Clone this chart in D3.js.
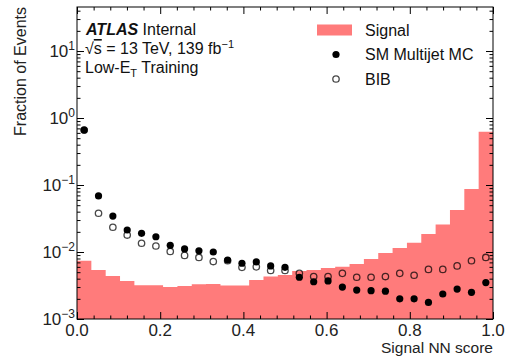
<!DOCTYPE html>
<html>
<head>
<meta charset="utf-8">
<script src="https://cdn.jsdelivr.net/npm/d3@7"></script>
<style>
  html, body { margin: 0; padding: 0; background: #fff; }
  svg { display: block; font-family: "Liberation Sans", Arial, Helvetica, sans-serif; }
</style>
</head>
<body>
<svg id="chart" width="505" height="356"></svg>
<script>
// ---- data (29 equal-width bins on [0,1]) ----
const signal = [0.0074, 0.0054, 0.0044, 0.0037, 0.0032, 0.0032, 0.0030, 0.0031, 0.0033,
                0.00333, 0.00316, 0.00316, 0.00382, 0.00431, 0.00454, 0.0052, 0.0054, 0.00577,
                0.0060, 0.00662, 0.00787, 0.00966, 0.0115, 0.0138, 0.0186, 0.0257, 0.0424,
                0.0872, 0.625];
const smMultijet = [0.662, 0.0686, 0.0344, 0.0213, 0.019, 0.0169, 0.0126, 0.0111, 0.0104,
                    0.0100, 0.0076, 0.0068, 0.0071, 0.0062, 0.0059, 0.0042, 0.0036, 0.0037,
                    0.0030, 0.0027, 0.00265, 0.0026, 0.0020, 0.0020, 0.00177, 0.00236, 0.0028,
                    0.0025, 0.0035];
const bib = [0.66, 0.0379, 0.0234, 0.0179, 0.0135, 0.0123, 0.0102, 0.0089, 0.0083,
             0.0072, 0.0074, 0.0059, 0.0060, 0.0053, 0.0053, 0.0048, 0.0043, 0.0043,
             0.0048, 0.0042, 0.0042, 0.0043, 0.0048, 0.0045, 0.0055, 0.0055, 0.0062,
             0.0074, 0.0083];
const xTickValues = [0, 0.2, 0.4, 0.6, 0.8, 1.0];
const xTickLabels = ["0.0", "0.2", "0.4", "0.6", "0.8", "1.0"];
const yTickExponents = [-3, -2, -1, 0, 1];
const legendLabels = ["Signal", "SM Multijet MC", "BIB"];

// ---- layout ----
const svg = d3.select("#chart");
const L = 77, R = 493, T = 7, B = 319;
const x = d3.scaleLinear().domain([0, 1]).range([L, R]);
const y = d3.scaleLog().domain([1e-3, Math.pow(10, 1.657)]).range([B, T]);
const nBins = signal.length;
const edges = d3.range(nBins + 1).map(i => i / nBins);
const centers = d3.range(nBins).map(i => (i + 0.5) / nBins);
const pink = "#ff7b7b";

// signal histogram as a filled step area
const histData = edges.map((e, i) => ({ e, v: signal[Math.min(i, nBins - 1)] }));
const area = d3.area()
  .x(d => x(d.e))
  .y0(B)
  .y1(d => y(d.v))
  .curve(d3.curveStepAfter);
svg.append("path").datum(histData).attr("d", area).attr("fill", pink);

// SM multijet (filled)
svg.append("g").selectAll("circle").data(smMultijet).join("circle")
  .attr("cx", (d, i) => x(centers[i]))
  .attr("cy", d => y(d))
  .attr("r", 3.6)
  .attr("fill", "#000");

// BIB (open)
svg.append("g").selectAll("circle").data(bib).join("circle")
  .attr("cx", (d, i) => x(centers[i]))
  .attr("cy", d => y(d))
  .attr("r", 3.2)
  .attr("fill", "none")
  .attr("stroke", "rgba(0,0,0,0.72)")
  .attr("stroke-width", 1.3);

// ---- axes: ticks inward on all sides ----
const xMinor = d3.range(0, 51).map(i => i * 0.04).filter(v => v <= 1.0001 && Math.abs(v / 0.2 - Math.round(v / 0.2)) > 1e-6);
const yMinor = [];
for (let e = -3; e <= 1; e++) for (let m = 2; m <= 9; m++) {
  const v = m * Math.pow(10, e);
  if (v <= y.domain()[1]) yMinor.push(v);
}

function styleAxis(g) {
  g.select(".domain").remove();
  g.selectAll(".tick line").attr("stroke", "#000").attr("stroke-width", 1);
  g.selectAll(".tick text").remove();
}
svg.append("g").attr("transform", `translate(0,${B})`)
  .call(d3.axisBottom(x).tickValues(xTickValues).tickSize(-7)).call(styleAxis);
svg.append("g").attr("transform", `translate(0,${B})`)
  .call(d3.axisBottom(x).tickValues(xMinor).tickSize(-3.5)).call(styleAxis);
svg.append("g").attr("transform", `translate(0,${T})`)
  .call(d3.axisTop(x).tickValues(xTickValues).tickSize(-7)).call(styleAxis);
svg.append("g").attr("transform", `translate(0,${T})`)
  .call(d3.axisTop(x).tickValues(xMinor).tickSize(-3.5)).call(styleAxis);
const yMajorVals = yTickExponents.map(e => Math.pow(10, e));
svg.append("g").attr("transform", `translate(${L},0)`)
  .call(d3.axisLeft(y).tickValues(yMajorVals).tickSize(-7)).call(styleAxis);
svg.append("g").attr("transform", `translate(${L},0)`)
  .call(d3.axisLeft(y).tickValues(yMinor).tickSize(-3.5)).call(styleAxis);
svg.append("g").attr("transform", `translate(${R},0)`)
  .call(d3.axisRight(y).tickValues(yMajorVals).tickSize(-7)).call(styleAxis);
svg.append("g").attr("transform", `translate(${R},0)`)
  .call(d3.axisRight(y).tickValues(yMinor).tickSize(-3.5)).call(styleAxis);

// frame
svg.append("rect").attr("x", L).attr("y", T).attr("width", R - L).attr("height", B - T)
  .attr("fill", "none").attr("stroke", "#000").attr("stroke-width", 1);

// x tick labels
svg.append("g").selectAll("text").data(xTickValues).join("text")
  .attr("x", d => x(d)).attr("y", B + 17)
  .attr("text-anchor", "middle").attr("font-size", 17).attr("fill", "#222")
  .text((d, i) => xTickLabels[i]);

// y tick labels 10^n
const yl = svg.append("g").selectAll("text").data(yTickExponents).join("text")
  .attr("x", L - 2).attr("y", d => y(Math.pow(10, d)) + 6)
  .attr("text-anchor", "end").attr("font-size", 17).attr("fill", "#222");
yl.append("tspan").text("10");
yl.append("tspan").attr("dy", -7).attr("font-size", 12)
  .text(d => (d < 0 ? "\u2212" + (-d) : String(d)));

// axis titles
svg.append("text").attr("transform", `translate(26,${T}) rotate(-90)`)
  .attr("text-anchor", "end").attr("font-size", 16).attr("fill", "#222")
  .text("Fraction of Events");
svg.append("text").attr("x", R).attr("y", 353)
  .attr("text-anchor", "end").attr("font-size", 15.5).attr("fill", "#222")
  .text("Signal NN score");

// ATLAS label block
const t1 = svg.append("text").attr("x", 86).attr("y", 35).attr("font-size", 16).attr("fill", "#111");
t1.append("tspan").attr("font-weight", "bold").attr("font-style", "italic").text("ATLAS");
t1.append("tspan").text(" Internal");
const t2 = svg.append("text").attr("x", 85).attr("y", 54).attr("font-size", 16).attr("fill", "#111");
t2.append("tspan").text("\u221A");
t2.append("tspan").attr("style", "text-decoration: overline").text("s");
t2.append("tspan").text(" = 13 TeV, 139 fb");
t2.append("tspan").attr("dy", -6).attr("font-size", 11).text("\u22121");
const t3 = svg.append("text").attr("x", 85).attr("y", 72.5).attr("font-size", 16).attr("fill", "#111");
t3.append("tspan").text("Low-E");
t3.append("tspan").attr("dy", 4).attr("font-size", 11).text("T");
t3.append("tspan").attr("dy", -4).text(" Training");

// legend
const legY = [30, 54.5, 79];
svg.append("rect").attr("x", 317).attr("y", legY[0] - 5.5).attr("width", 35).attr("height", 11).attr("fill", pink);
svg.append("circle").attr("cx", 336).attr("cy", legY[1]).attr("r", 3.6).attr("fill", "#000");
svg.append("circle").attr("cx", 336).attr("cy", legY[2]).attr("r", 3.2).attr("fill", "none")
  .attr("stroke", "rgba(0,0,0,0.72)").attr("stroke-width", 1.3);
svg.append("g").selectAll("text").data(legendLabels).join("text")
  .attr("x", 365).attr("y", (d, i) => legY[i] + 5.8)
  .attr("font-size", 16).attr("fill", "#111")
  .text(d => d);
</script>
</body>
</html>
